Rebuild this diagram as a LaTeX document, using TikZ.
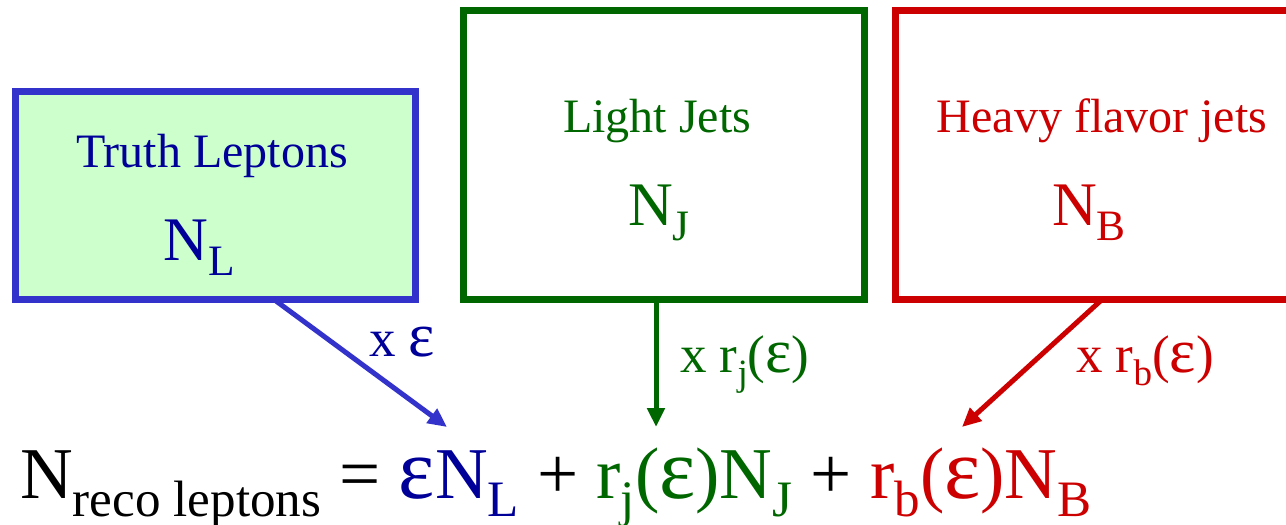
\documentclass[tikz,border=0pt]{standalone}
\usepackage{fontspec}
\setmainfont{Liberation Serif}
\usetikzlibrary{
    positioning,
    arrows.meta
}
\definecolor{leptonline}{HTML}{3333CC}
\definecolor{leptontext}{HTML}{000099}
\definecolor{leptonfill}{HTML}{CCFFCC}
\definecolor{jetgreen}{HTML}{006600}
\definecolor{heavyred}{HTML}{CC0000}
\newcommand{\lowtext}[1]{\raisebox{-0.25em}{\scalebox{0.7}{#1}}}
\newcommand{\eps}{\scalebox{1.18}{ε}}

\begin{document}
\begin{tikzpicture}[
    x=1pt, y=-1pt,
    sample/.style={
        rectangle,
        draw,
        line width=7pt,
        inner sep=0pt
    },
    title/.style={inner sep=0pt, anchor=base, font=\fontsize{48}{56}\selectfont},
    count/.style={inner sep=0pt, anchor=base, font=\fontsize{62}{70}\selectfont},
    factor/.style={inner sep=0pt, anchor=base west, font=\fontsize{53}{60}\selectfont},
    arrow/.style={-{Triangle[length=19pt,width=17pt]}, line width=5pt}
]
\useasboundingbox (0,0) rectangle (1286,525);
\clip (0,0) rectangle (1286,525);

% the three samples
\node[sample, draw=leptonline, fill=leptonfill,
    minimum width=400pt, minimum height=208pt] (truth) at (215.5,195) {};
\node[sample, draw=jetgreen,
    minimum width=401pt, minimum height=289pt] (light) at (664,155) {};
\node[sample, draw=heavyred,
    minimum width=430pt, minimum height=289pt] (heavy) at (1110.5,155) {};

\node[title, text=leptontext] (truthname) at (212,167) {Truth Leptons};
\node[count, text=leptontext] (truthcount) at (199,260) {N\lowtext{L}};

\node[title, text=jetgreen] (lightname) at (657,132) {Light Jets};
\node[count, text=jetgreen] (lightcount) at (659,225) {N\lowtext{J}};

\node[title, text=heavyred] (heavyname) at (1102,132) {Heavy flavor jets};
\node[count, text=heavyred] (heavycount) at (1089,225) {N\lowtext{B}};

% result
\node[inner sep=0pt, anchor=base west, font=\fontsize{73}{80}\selectfont] (reco) at (20,498)
    {N\lowtext{reco leptons} = {\color{leptontext}\eps N\lowtext{L}}
     + {\color{jetgreen}r\lowtext{j}(\eps)N\lowtext{J}}
     + {\color{heavyred}r\lowtext{b}(\eps)N\lowtext{B}}};

\coordinate (truthout) at (274,299.5);
\coordinate (lightout) at (656,299.5);
\coordinate (heavyout) at (1102,299.5);
\coordinate (truthin) at (447,427);
\coordinate (lightin) at (656,427);
\coordinate (heavyin) at (962,427);

\draw[arrow, leptonline] (truthout) -- (truthin);
\draw[arrow, jetgreen] (lightout) -- (lightin);
\draw[arrow, heavyred] (heavyout) -- (heavyin);

\node[factor, text=leptontext] (truthfactor) at (369,356) {x \eps};
\node[factor, text=jetgreen] (lightfactor) at (680,372) {x r\lowtext{j}(\eps)};
\node[factor, text=heavyred] (heavyfactor) at (1076,372) {x r\lowtext{b}(\eps)};

\end{tikzpicture}
\end{document}
